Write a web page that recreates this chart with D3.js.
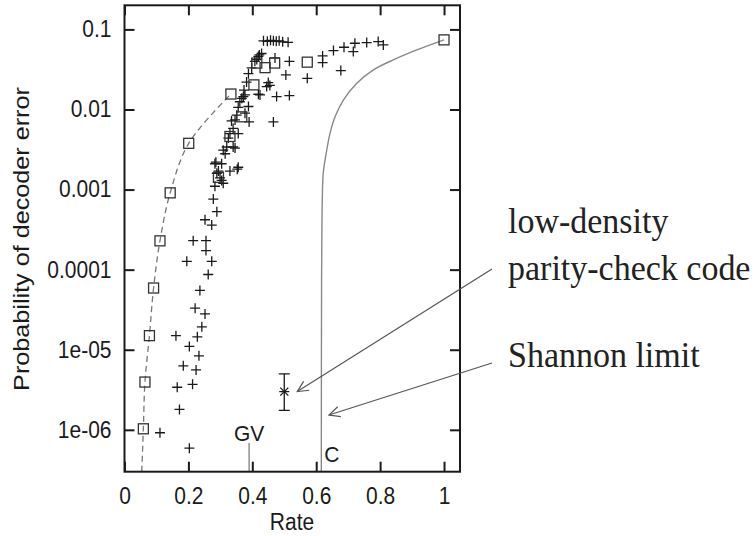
<!DOCTYPE html>
<html><head><meta charset="utf-8">
<script src="https://cdn.jsdelivr.net/npm/d3@7"></script>
<style>body{margin:0;background:#fff}svg{display:block}</style>
</head><body>
<script>
// ---- data ----
const xTicks = [0, 0.2, 0.4, 0.6, 0.8, 1];
const xTickLabels = ["0", "0.2", "0.4", "0.6", "0.8", "1"];
const yTicks = [0.1, 0.01, 0.001, 1e-4, 1e-5, 1e-6];
const yTickLabels = ["0.1", "0.01", "0.001", "0.0001", "1e-05", "1e-06"];

// simulated codes ("+")
const plusRate = [0.435,0.447,0.457,0.466,0.475,0.484,0.495,0.512,
  0.429,0.422,0.419,0.414,0.408,0.398,0.388,0.382,0.374,0.372,0.361,0.356,0.351,0.346,0.340,0.330,0.325,0.340,0.320,0.315,
  0.283,0.304,0.356,0.289,0.330,0.304,0.283,0.309,0.278,
  0.39,0.335,0.356,0.346,0.309,0.286,0.353,0.294,0.299,
  0.471,0.516,0.505,0.450,0.455,0.419,0.424,0.476,0.516,0.466,0.388,0.445,0.377,0.367,0.377,
  0.572,0.620,0.620,0.654,0.687,0.721,0.716,0.758,0.794,0.810,0.677,
  0.289,0.252,0.273,0.215,0.255,0.255,0.195,0.273,0.262,0.236,0.221,0.252,0.242,0.161,0.228,0.203,0.233,0.184,0.224,0.165,0.213,0.172,0.111,0.203];
const plusProb = [0.072,0.071,0.073,0.072,0.071,0.072,0.070,0.069,
  0.050,0.048,0.046,0.042,0.040,0.033,0.028,0.022,0.0175,0.0145,0.0125,0.0106,0.0085,0.0074,0.0058,0.0050,0.0044,0.0034,0.0034,0.0028,
  0.0021,0.0021,0.0019,0.0016,0.0017,0.0013,0.0011,0.0012,0.00076,
  0.0070,0.0072,0.0050,0.0033,0.0031,0.0022,0.0018,0.0017,0.0014,
  0.044,0.040,0.027,0.0217,0.020,0.0155,0.0152,0.0145,0.0149,0.0070,0.0109,0.0193,0.0152,0.0138,0.0090,
  0.0245,0.0467,0.0385,0.0544,0.0599,0.0672,0.0528,0.0684,0.0705,0.064,0.0306,
  5.3e-4,4.2e-4,3.6e-4,2.3e-4,2.3e-4,1.73e-4,1.27e-4,1.27e-4,8.7e-5,5.5e-5,3.3e-5,2.8e-5,1.93e-5,1.5e-5,1.45e-5,1.1e-5,8.4e-6,6.3e-6,5.6e-6,3.4e-6,3.7e-6,1.8e-6,9.2e-7,5.9e-7];

// boxes
const boxRate = [0.059,0.064,0.078,0.091,0.111,0.143,0.201,0.333,0.294,0.33,0.367,0.405,0.414,0.44,0.47,0.572,1.0];
const boxProb = [1.03e-6,3.95e-6,1.5e-5,5.9e-5,2.29e-4,9.1e-4,0.00378,0.0156,0.00142,0.0046,0.0081,0.0203,0.038,0.0333,0.038,0.039,0.074];

// dashed curve through the boxes
const dashRate = [0.054,0.059,0.064,0.078,0.091,0.111,0.143,0.201,0.333];
const dashProb = [3e-7,1.03e-6,3.95e-6,1.5e-5,5.9e-5,2.29e-4,9.1e-4,0.00378,0.0156];

// Shannon limit curve
const shRate = [1.0,0.915,0.841,0.779,0.727,0.685,0.659,0.643,0.631,0.622,0.619,0.617,0.6163,0.616];
const shProb = [0.074,0.0554,0.0416,0.0312,0.0212,0.0131,0.0081,0.005,0.0028,0.0016,7.4e-4,1e-4,1e-5,3e-7];

// LDPC point with error bar
const ldpcRate = 0.5, ldpcProb = 3e-6, ldpcLow = 1.75e-6, ldpcHigh = 5e-6;
const gvRate = 0.39, cRate = 0.616;

// ---- drawing ----
const W = 755, H = 536;
const svg = d3.select("body").append("svg").attr("width", W).attr("height", H);
const L = 124.5, R = 460, T = 5.3, B = 471.7;
const x = d3.scaleLinear().domain([0, 1.05]).range([L, R]);
const y = d3.scaleLog().domain([3e-7, 0.2]).range([B, T]);
const sans = "'Liberation Sans', Arial, sans-serif";
const serif = "'Liberation Serif', 'Times New Roman', serif";
const ink = "#1a1a1a";

svg.append("clipPath").attr("id","clip").append("rect").attr("x",L).attr("y",T).attr("width",R-L).attr("height",B-T);
const plot = svg.append("g").attr("clip-path","url(#clip)");

// dashed curve
plot.append("path").datum(dashRate.map((r,i)=>[r,dashProb[i]]))
  .attr("d", d3.line().x(d=>x(d[0])).y(d=>y(d[1])).curve(d3.curveCatmullRom))
  .attr("fill","none").attr("stroke","#777").attr("stroke-width",1.3).attr("stroke-dasharray","6,4");

// Shannon curve
plot.append("path").datum(shRate.map((r,i)=>[r,shProb[i]]))
  .attr("d", d3.line().x(d=>x(d[0])).y(d=>y(d[1])).curve(d3.curveCatmullRom))
  .attr("fill","none").attr("stroke","#888").attr("stroke-width",1.4);

// GV line
plot.append("line").attr("x1",x(gvRate)).attr("x2",x(gvRate)).attr("y1",B).attr("y2",443)
  .attr("stroke","#888").attr("stroke-width",1.4);

// plus marks
const pg = plot.append("g").attr("stroke",ink).attr("stroke-width",1.3);
plusRate.forEach((r,i)=>{
  const cx = x(r), cy = y(plusProb[i]), s = 5;
  pg.append("line").attr("x1",cx-s).attr("x2",cx+s).attr("y1",cy).attr("y2",cy);
  pg.append("line").attr("x1",cx).attr("x2",cx).attr("y1",cy-s).attr("y2",cy+s);
});

// boxes
plot.append("g").selectAll("rect").data(boxRate.map((r,i)=>[r,boxProb[i]])).join("rect")
  .attr("x",d=>x(d[0])-5).attr("y",d=>y(d[1])-5).attr("width",10).attr("height",10)
  .attr("fill","none").attr("stroke","#333").attr("stroke-width",1.3);

// LDPC star with error bar
const lx = x(ldpcRate), ly = y(ldpcProb);
const eg = plot.append("g").attr("stroke",ink).attr("stroke-width",1.3);
eg.append("line").attr("x1",lx).attr("x2",lx).attr("y1",y(ldpcHigh)).attr("y2",y(ldpcLow));
eg.append("line").attr("x1",lx-5.5).attr("x2",lx+5.5).attr("y1",y(ldpcHigh)).attr("y2",y(ldpcHigh));
eg.append("line").attr("x1",lx-5.5).attr("x2",lx+5.5).attr("y1",y(ldpcLow)).attr("y2",y(ldpcLow));
eg.append("line").attr("x1",lx-5).attr("x2",lx+5).attr("y1",ly).attr("y2",ly);
eg.append("line").attr("x1",lx-4).attr("x2",lx+4).attr("y1",ly-4).attr("y2",ly+4);
eg.append("line").attr("x1",lx-4).attr("x2",lx+4).attr("y1",ly+4).attr("y2",ly-4);

// axes (ticks inward, mirrored)
function styleAxis(g){
  g.select(".domain").remove();
  g.selectAll(".tick line").attr("stroke",ink).attr("stroke-width",2);
  g.selectAll(".tick text").attr("fill",ink).attr("font-family",sans).attr("font-size",21);
}
svg.append("g").attr("transform",`translate(0,${B})`)
  .call(d3.axisBottom(x).tickValues(xTicks).tickFormat((d,i)=>xTickLabels[i]).tickSize(-10).tickPadding(14.5)).call(styleAxis)
  .call(g=>g.selectAll(".tick text").attr("transform","scale(1,1.1)"));
svg.append("g").attr("transform",`translate(0,${T})`)
  .call(d3.axisTop(x).tickValues(xTicks).tickFormat("").tickSize(-10)).call(styleAxis);
svg.append("g").attr("transform",`translate(${L},0)`)
  .call(d3.axisLeft(y).tickValues(yTicks).tickFormat((d,i)=>yTickLabels[i]).tickSize(-10).tickPadding(13)).call(styleAxis)
  .call(g=>g.selectAll(".tick text").attr("transform","scale(1,1.1)"));
svg.append("g").attr("transform",`translate(${R},0)`)
  .call(d3.axisRight(y).tickValues(yTicks).tickFormat("").tickSize(-10)).call(styleAxis);

// frame
svg.append("rect").attr("x",L).attr("y",T).attr("width",R-L).attr("height",B-T)
  .attr("fill","none").attr("stroke",ink).attr("stroke-width",2);

// labels
svg.append("text").attr("transform","translate(292,530) scale(1,1.12)").attr("text-anchor","middle")
  .attr("font-family",sans).attr("font-size",21).attr("fill",ink).text("Rate");
svg.append("text").attr("transform","translate(28.5,239) rotate(-90) scale(1.12,1)").attr("text-anchor","middle")
  .attr("font-family",sans).attr("font-size",22.5).attr("fill",ink).text("Probability of decoder error");
svg.append("text").attr("transform",`translate(${x(gvRate)},441) scale(1,1.08)`).attr("text-anchor","middle")
  .attr("font-family",sans).attr("font-size",21).attr("fill",ink).text("GV");
svg.append("text").attr("transform",`translate(${x(cRate)+3},462) scale(1,1.08)`)
  .attr("font-family",sans).attr("font-size",21).attr("fill",ink).text("C");

// annotations
const ann = [["low-density",233],["parity-check code",280],["Shannon limit",367]];
ann.forEach(([t,by])=>{
  svg.append("text").attr("transform",`translate(508,${by}) scale(1,1.06)`)
    .attr("font-family",serif).attr("font-size",34).attr("fill","#222").text(t);
});

// arrows
function arrow(x1,y1,x2,y2){
  const g = svg.append("g").attr("stroke","#555").attr("stroke-width",1.2).attr("fill","none");
  g.append("line").attr("x1",x1).attr("y1",y1).attr("x2",x2).attr("y2",y2);
  const a = Math.atan2(y1-y2, x1-x2), len = 12, sp = 0.45;
  g.append("path").attr("d",`M${x2+len*Math.cos(a+sp)},${y2+len*Math.sin(a+sp)} L${x2},${y2} L${x2+len*Math.cos(a-sp)},${y2+len*Math.sin(a-sp)}`);
}
arrow(492,269, lx+13, ly);
arrow(492,363, 329,415);
</script>
</body></html>
